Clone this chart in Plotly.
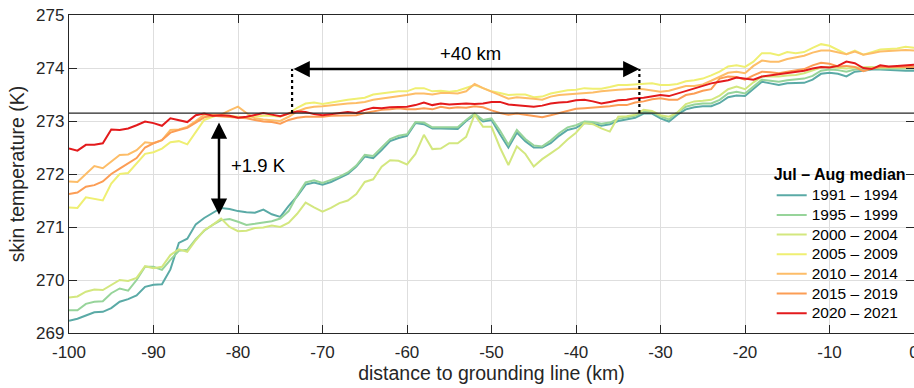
import numpy as np
import plotly.graph_objects as go

# Distance along the flowline (km, negative = upstream of grounding line)
distance_km = np.arange(-100, 1)

# Jul-Aug median skin temperature (K) for each period, sampled every 1 km
t_1991_1994 = [
    269.23, 269.27, 269.33, 269.39, 269.40, 269.47, 269.59, 269.64, 269.71, 269.87,
    269.91, 269.92, 270.20, 270.70, 270.78, 271.05, 271.17, 271.26, 271.36, 271.34,
    271.30, 271.28, 271.27, 271.33, 271.24, 271.19, 271.40, 271.58, 271.80, 271.84,
    271.80, 271.85, 271.92, 272.00, 272.14, 272.33, 272.30, 272.45, 272.62, 272.68,
    272.72, 272.96, 272.94, 272.86, 272.86, 272.86, 272.85, 273.00, 273.12, 272.99,
    273.02, 272.75, 272.50, 272.78, 272.62, 272.50, 272.50, 272.58, 272.72, 272.83,
    272.87, 272.96, 272.95, 272.91, 272.94, 273.00, 273.03, 273.06, 273.14, 273.14,
    273.05, 272.99, 273.12, 273.22, 273.26, 273.28, 273.28, 273.34, 273.45, 273.48,
    273.47, 273.60, 273.74, 273.71, 273.68, 273.71, 273.72, 273.72, 273.78, 273.89,
    273.91, 273.89, 273.84, 273.93, 273.95, 273.97, 273.97, 273.96, 273.95, 273.95,
    273.95,
]
t_1995_1999 = [
    269.43, 269.43, 269.55, 269.59, 269.60, 269.75, 269.84, 269.80, 270.00, 270.25,
    270.25, 270.19, 270.38, 270.55, 270.57, 270.77, 270.93, 271.04, 271.13, 271.15,
    271.10, 271.04, 271.06, 271.08, 271.11, 271.16, 271.30, 271.60, 271.84, 271.88,
    271.83, 271.89, 271.95, 272.03, 272.16, 272.36, 272.34, 272.50, 272.66, 272.72,
    272.75, 272.98, 272.97, 272.88, 272.88, 272.88, 272.88, 273.02, 273.14, 273.02,
    273.05, 272.82, 272.55, 272.83, 272.66, 272.54, 272.52, 272.63, 272.77, 272.88,
    272.92, 272.99, 272.98, 272.95, 272.97, 273.04, 273.07, 273.10, 273.17, 273.17,
    273.09, 273.03, 273.16, 273.27, 273.31, 273.33, 273.33, 273.40, 273.52, 273.55,
    273.52, 273.65, 273.78, 273.76, 273.74, 273.77, 273.78, 273.80, 273.85, 273.95,
    273.97, 273.96, 273.93, 273.97, 273.98, 274.00, 273.99, 273.99, 273.99, 273.99,
    273.99,
]
t_2000_2004 = [
    269.67, 269.69, 269.78, 269.82, 269.81, 269.91, 270.00, 269.98, 270.04, 270.26,
    270.22, 270.25, 270.47, 270.58, 270.53, 270.75, 270.94, 271.04, 271.16, 271.00,
    270.92, 270.93, 270.98, 270.99, 271.03, 271.00, 271.08, 271.25, 271.46, 271.37,
    271.29, 271.36, 271.45, 271.50, 271.62, 271.85, 271.90, 272.14, 272.26, 272.25,
    272.18, 272.38, 272.74, 272.47, 272.48, 272.58, 272.58, 272.70, 273.12, 272.89,
    272.89, 272.50, 272.17, 272.52, 272.38, 272.14, 272.28, 272.39, 272.50, 272.65,
    272.78, 272.96, 272.94, 272.86, 272.80, 273.08, 273.09, 273.12, 273.21, 273.19,
    273.11, 273.08, 273.16, 273.32, 273.37, 273.38, 273.40, 273.48, 273.60, 273.65,
    273.60, 273.73, 273.84, 273.84, 273.84, 273.86, 273.87, 273.90, 273.96, 274.01,
    274.02, 274.01, 273.99, 274.01, 274.02, 274.02, 274.01, 274.01, 274.01, 274.01,
    274.01,
]
t_2005_2009 = [
    271.37, 271.36, 271.56, 271.53, 271.50, 271.82, 272.00, 272.02, 272.20, 272.38,
    272.41, 272.48, 272.60, 272.62, 272.56, 272.80, 273.02, 273.08, 273.12, 273.10,
    273.08, 273.06, 273.08, 273.10, 273.10, 273.08, 273.14, 273.25, 273.33, 273.35,
    273.32, 273.35, 273.38, 273.40, 273.42, 273.44, 273.50, 273.52, 273.55, 273.56,
    273.56, 273.62, 273.62, 273.56, 273.57, 273.55, 273.57, 273.63, 273.68, 273.62,
    273.56, 273.53, 273.49, 273.50, 273.50, 273.45, 273.46, 273.52, 273.55, 273.58,
    273.59, 273.62, 273.61, 273.61, 273.64, 273.68, 273.68, 273.69, 273.71, 273.71,
    273.68, 273.68, 273.70, 273.75, 273.77, 273.80, 273.86, 273.93, 274.03, 274.05,
    274.02, 274.12, 274.28, 274.28, 274.24, 274.30, 274.28, 274.30, 274.38, 274.45,
    274.42, 274.34, 274.26, 274.33, 274.25, 274.30, 274.35, 274.36, 274.37, 274.40,
    274.38,
]
t_2010_2014 = [
    271.86, 271.85, 272.00, 272.15, 272.11, 272.23, 272.36, 272.37, 272.45, 272.60,
    272.58, 272.64, 272.83, 272.84, 272.89, 273.00, 273.12, 273.12, 273.12, 273.20,
    273.27, 273.15, 273.05, 273.03, 273.02, 273.00, 273.08, 273.18, 273.24, 273.27,
    273.28, 273.30, 273.32, 273.33, 273.34, 273.36, 273.40, 273.42, 273.44, 273.47,
    273.49, 273.52, 273.52, 273.50, 273.53, 273.53, 273.52, 273.56, 273.70, 273.62,
    273.55, 273.48, 273.42, 273.45, 273.44, 273.42, 273.40, 273.46, 273.49, 273.50,
    273.52, 273.52, 273.54, 273.56, 273.58, 273.59, 273.60, 273.61, 273.60, 273.58,
    273.55, 273.57, 273.62, 273.66, 273.66, 273.69, 273.76, 273.84, 273.91, 273.93,
    273.90, 274.04, 274.14, 274.12, 274.12, 274.17, 274.20, 274.23, 274.29, 274.33,
    274.33, 274.30, 274.26, 274.31, 274.25, 274.28, 274.31, 274.32, 274.33, 274.34,
    274.33,
]
t_2015_2019 = [
    271.62, 271.65, 271.76, 271.79, 271.86, 272.00, 272.10, 272.20, 272.30, 272.50,
    272.58, 272.64, 272.78, 272.83, 272.87, 272.97, 273.07, 273.10, 273.09, 273.08,
    273.06, 273.05, 273.02, 272.99, 272.98, 272.95, 273.02, 273.06, 273.08, 273.08,
    273.08, 273.10, 273.10, 273.11, 273.11, 273.15, 273.18, 273.21, 273.22, 273.24,
    273.22, 273.22, 273.24, 273.22, 273.27, 273.24, 273.26, 273.25, 273.28, 273.26,
    273.20, 273.15, 273.12, 273.14, 273.12, 273.10, 273.07, 273.11, 273.15, 273.20,
    273.23, 273.24, 273.25, 273.27, 273.28, 273.30, 273.30, 273.35, 273.37, 273.41,
    273.43, 273.40, 273.40, 273.49, 273.52, 273.57, 273.60, 273.80, 273.84, 273.83,
    273.78, 273.86, 273.93, 273.92, 273.90, 273.93, 273.95, 273.98, 274.05, 274.10,
    274.08, 274.03, 274.04, 274.02, 273.94, 273.99, 274.02, 274.02, 274.02, 274.02,
    274.02,
]
t_2020_2021 = [
    272.48, 272.44, 272.55, 272.55, 272.58, 272.84, 272.83, 272.86, 272.92, 272.99,
    272.96, 272.91, 273.05, 273.02, 272.98, 273.11, 273.14, 273.10, 273.11, 273.10,
    273.06, 273.08, 273.11, 273.15, 273.12, 273.09, 273.14, 273.18, 273.17, 273.13,
    273.11, 273.13, 273.15, 273.17, 273.15, 273.21, 273.25, 273.24, 273.26, 273.27,
    273.27, 273.30, 273.35, 273.30, 273.33, 273.31, 273.32, 273.33, 273.32, 273.33,
    273.36, 273.36, 273.31, 273.30, 273.28, 273.27, 273.29, 273.33, 273.35, 273.36,
    273.39, 273.40, 273.37, 273.33, 273.36, 273.39, 273.40, 273.43, 273.44, 273.47,
    273.49, 273.47, 273.52, 273.57, 273.61, 273.66, 273.71, 273.74, 273.77, 273.82,
    273.80, 273.78, 273.84, 273.86, 273.88, 273.90, 273.92, 273.95, 273.99, 274.02,
    274.01, 274.04, 274.12, 274.09, 274.00, 273.98, 274.05, 274.03, 274.04, 274.05,
    274.06,
]

period_labels = ["1991 – 1994", "1995 – 1999", "2000 – 2004", "2005 – 2009",
                 "2010 – 2014", "2015 – 2019", "2020 – 2021"]
period_series = [t_1991_1994, t_1995_1999, t_2000_2004, t_2005_2009,
                 t_2010_2014, t_2015_2019, t_2020_2021]
period_colors = ["#5aaaa6", "#97d49a", "#d3e77f", "#efef72",
                 "#fdbd68", "#fc9d55", "#e31a1c"]

# Axis ticks
x_tick_vals = [-100, -90, -80, -70, -60, -50, -40, -30, -20, -10, 0]
x_tick_text = ["-100", "-90", "-80", "-70", "-60", "-50", "-40", "-30", "-20", "-10", "0"]
y_tick_vals = [269, 270, 271, 272, 273, 274, 275]
y_tick_text = ["269", "270", "271", "272", "273", "274", "275"]

# Melting point reference and annotated differences
melting_point_k = 273.15
shift_start_km, shift_end_km = -73.6, -32.5
shift_arrow_k = 273.98
shift_label = "+40 km"
warming_km = -82.25
warming_low_k, warming_high_k = 271.23, 273.0
warming_label = "+1.9 K"

FONT = "Liberation Sans, Arial, Helvetica, sans-serif"
INK = "#262626"
LEGEND_TEXT_PX = 15.5

fig = go.Figure()
for label, values, color in zip(period_labels, period_series, period_colors):
    fig.add_trace(go.Scatter(
        x=distance_km, y=values, mode="lines",
        name=f"<span style='font-size:{LEGEND_TEXT_PX}px'>{label}</span>",
        line=dict(color=color, width=2),
    ))

# Empty trace so the secondary (right-hand) axis carries inward ticks
fig.add_trace(go.Scatter(x=[], y=[], xaxis="x", yaxis="y2",
                         showlegend=False, hoverinfo="skip"))

# Melting-point line across the full width
fig.add_shape(type="line", xref="paper", x0=0, x1=1, yref="y",
              y0=melting_point_k, y1=melting_point_k,
              line=dict(color=INK, width=1.3), layer="above")

# Dotted drop lines at either end of the +40 km shift
for xk in (shift_start_km, shift_end_km):
    fig.add_shape(type="line", xref="x", yref="y", x0=xk, x1=xk,
                  y0=melting_point_k, y1=shift_arrow_k,
                  line=dict(color="black", width=2.2, dash="dot"), layer="above")

# Double-headed arrows
arrow_style = dict(showarrow=True, arrowside="end+start", arrowhead=2, startarrowhead=2,
                   arrowwidth=2.5, arrowsize=1.3, startarrowsize=1.3, arrowcolor="black",
                   xref="x", yref="y", axref="x", ayref="y", text="")
fig.add_annotation(x=shift_end_km, y=shift_arrow_k, ax=shift_start_km, ay=shift_arrow_k,
                   **arrow_style)
fig.add_annotation(x=warming_km, y=warming_low_k, ax=warming_km, ay=warming_high_k,
                   **arrow_style)

fig.add_annotation(x=(shift_start_km + shift_end_km) / 2 + 0.6, y=274.28, text=shift_label,
                   showarrow=False, xref="x", yref="y",
                   font=dict(family=FONT, size=18.5, color="black"))
fig.add_annotation(x=-77.55, y=272.16, text=warming_label,
                   showarrow=False, xref="x", yref="y",
                   font=dict(family=FONT, size=18.5, color="black"))

fig.update_layout(
    width=914, height=388,
    margin=dict(l=69, r=0, t=15, b=55, autoexpand=False),
    paper_bgcolor="white", plot_bgcolor="white",
    font=dict(family=FONT, size=17, color=INK),
    showlegend=True,
    legend=dict(
        title=dict(text="<b>Jul – Aug median</b>", font=dict(family=FONT, size=16, color="black")),
        font=dict(family=FONT, size=12.8, color="black"),
        x=0.8316, y=0.545, xanchor="left", yanchor="top",
        bgcolor="rgba(0,0,0,0)", borderwidth=0,
        tracegroupgap=0, itemwidth=30,
    ),
    xaxis=dict(
        range=[-100, 0], tickvals=x_tick_vals, ticktext=x_tick_text,
        ticks="inside", ticklen=8, tickwidth=1.3, tickcolor=INK,
        showline=True, linecolor=INK, linewidth=1.3, mirror="ticks",
        showgrid=True, gridcolor="#dedede", gridwidth=1, zeroline=False,
        ticklabeloverflow="allow", automargin=False, ticklabelstandoff=3,
        tickfont=dict(family=FONT, size=17, color=INK),
        title=dict(text="distance to grounding line (km)",
                   font=dict(family=FONT, size=19.5, color=INK), standoff=4),
    ),
    yaxis=dict(
        range=[269, 275], tickvals=y_tick_vals, ticktext=y_tick_text,
        ticks="inside", ticklen=8, tickwidth=1.3, tickcolor=INK,
        showline=True, linecolor=INK, linewidth=1.3, automargin=False,
        showgrid=True, gridcolor="#dedede", gridwidth=1, zeroline=False,
        tickfont=dict(family=FONT, size=17, color=INK),
        title=dict(text="skin temperature (K)",
                   font=dict(family=FONT, size=19.5, color=INK), standoff=6),
    ),
    yaxis2=dict(
        overlaying="y", side="right", anchor="x", range=[269, 275], automargin=False,
        tickvals=y_tick_vals, ticks="inside", ticklen=8, tickwidth=1.3, tickcolor=INK,
        showticklabels=False, showline=False, showgrid=False, zeroline=False,
    ),
)

fig.write_html("out.html")
